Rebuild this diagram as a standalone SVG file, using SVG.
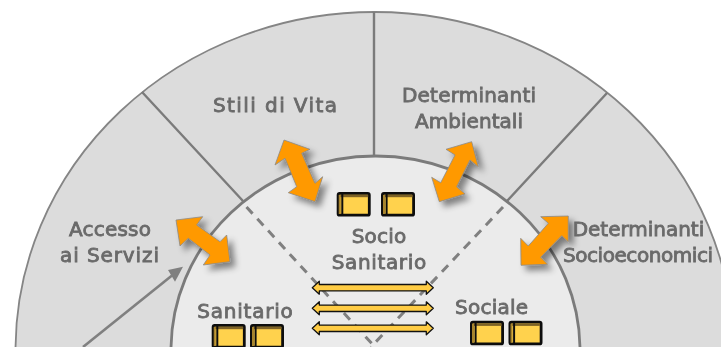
<svg xmlns="http://www.w3.org/2000/svg" xmlns:xlink="http://www.w3.org/1999/xlink" width="721" height="347" viewBox="0 0 721 347">
<defs>
<style>
.lbl{font-family:"DejaVu Sans","Noto Sans",sans-serif;font-size:20px;font-weight:400;fill:#6a6a6a;stroke:#6a6a6a;stroke-width:.85;filter:url(#soft)}
.div{stroke:#7b7b7b;stroke-width:2.4;fill:none}
.dash{stroke:#808080;stroke-width:3;stroke-dasharray:9 7;fill:none}
.orange{fill:#ff9900;stroke:#8a8a8a;stroke-width:.8;filter:url(#shadow)}
.yarrow{fill:#ffcc44;stroke:#111;stroke-width:1.3;stroke-linejoin:round}
</style>
<filter id="shadow" x="-40%" y="-40%" width="190%" height="190%"><feDropShadow dx="5" dy="5" stdDeviation="3" flood-color="#000" flood-opacity=".45"/></filter>
<filter id="soft" x="-5%" y="-20%" width="110%" height="140%"><feGaussianBlur stdDeviation=".3"/></filter>
<g id="book">
<rect x="1.400" y="1.400" width="31.200" height="21.800" rx="1.500" fill="#ffd24d" stroke="#0d0d0d" stroke-width="2.800"/>
<rect x="2.500" y="2.800" width="29" height="2.400" fill="#7d6226"/>
<path d="M3 3V22" stroke="#a8842c" stroke-width="2"/>
<path d="M5.600 2V23" stroke="#0d0d0d" stroke-width="2"/>
</g>
<path id="yarrow" class="yarrow" d="M0 0L7 -6.500V-3.200H114V-6.500L121 0L114 6.500V3.200H7V6.500Z"/>
</defs>
<rect width="721" height="347" fill="#ffffff"/>
<g id="outer-ring">
<ellipse cx="374.500" cy="350" rx="359" ry="338" fill="#dcdcdc" stroke="#858585" stroke-width="1.800"/>
</g>
<g id="connectors">
<path class="div" d="M142 92L243 201M374 12V157M607 93L507 201"/>
<ellipse id="inner-edge" cx="375.500" cy="350" rx="204.500" ry="194" fill="#ebebeb" stroke="#7b7b7b" stroke-width="2.800"/>
<path class="dash" d="M246.500 207L375 347M503 207L371 347"/>
<path d="M83 347L172 275.500" stroke="#808080" stroke-width="2.600" fill="none"/>
<polygon points="183,266.700 168,270 175,281.700" fill="#808080"/>
<use href="#yarrow" x="312.300" y="287.700"/>
<use href="#yarrow" x="312.300" y="308.300"/>
<use href="#yarrow" x="312.300" y="328.300"/>
<polygon class="orange" points="176,220 202.700,216.700 196.700,225 220,241.700 226.700,235 230,261.700 203.300,265 210,255 188.300,238.300 180,246"/>
<polygon class="orange" points="284,140 310,149.300 301.700,153.300 315,183.300 322.700,176.700 315,201.700 288.300,192.700 296.700,186.700 285,158.300 275,165"/>
<polygon class="orange" points="471.700,141.700 478.300,166.700 470,160 456.700,186.700 465,194 439.300,201.700 431.700,177.300 440.700,182.700 455,155 446,149.300"/>
<polygon class="orange" points="568.300,216 568.300,241.700 561.700,235.700 540.700,257.300 547.700,264.300 521,265.300 520.700,238.300 528.300,246 548.300,223.300 540.700,216.700"/>
</g>
<g id="node-accesso">
<text class="lbl" x="69" y="235.500" textLength="82" lengthAdjust="spacing">Accesso</text>
<text class="lbl" x="60" y="262" textLength="99" lengthAdjust="spacing">ai Servizi</text>
</g>
<g id="node-stili">
<text class="lbl" x="213" y="112" textLength="124" lengthAdjust="spacing">Stili di Vita</text>
</g>
<g id="node-ambientali">
<text class="lbl" x="402" y="102" textLength="134" lengthAdjust="spacing">Determinanti</text>
<text class="lbl" x="415" y="128" textLength="108" lengthAdjust="spacing">Ambientali</text>
</g>
<g id="node-socioeconomici">
<text class="lbl" x="572.700" y="235.700" textLength="131.500" lengthAdjust="spacing">Determinanti</text>
<text class="lbl" x="563" y="262" textLength="150" lengthAdjust="spacing">Socioeconomici</text>
</g>
<g id="node-sociosanitario">
<text class="lbl" x="351.700" y="242.700" textLength="54.500" lengthAdjust="spacing">Socio</text>
<text class="lbl" x="331.700" y="268.700" textLength="94.500" lengthAdjust="spacing">Sanitario</text>
<use href="#book" x="336.700" y="192"/>
<use href="#book" x="381" y="192"/>
</g>
<g id="node-sanitario">
<text class="lbl" x="197.300" y="318.300" textLength="95.500" lengthAdjust="spacing">Sanitario</text>
<use href="#book" x="211.700" y="324"/>
<use href="#book" x="250" y="324"/>
</g>
<g id="node-sociale">
<text class="lbl" x="455" y="314" textLength="73" lengthAdjust="spacing">Sociale</text>
<use href="#book" x="470" y="320.700"/>
<use href="#book" x="508.500" y="320.700"/>
</g>
</svg>
